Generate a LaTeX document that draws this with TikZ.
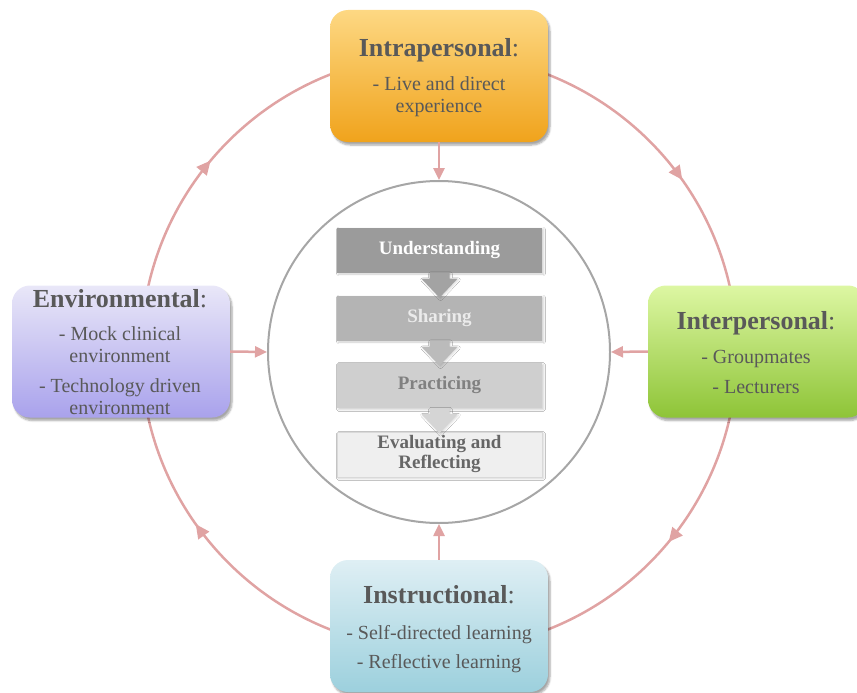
\documentclass[tikz,border=0pt]{standalone}
\usepackage{fontspec}
\setmainfont{Liberation Serif}
\usetikzlibrary{arrows.meta,calc,decorations.markings,shadows.blur}
\definecolor{txt}{HTML}{595959}
\definecolor{pinkl}{HTML}{E0A3A3}
\definecolor{ringgray}{HTML}{A6A6A6}
\definecolor{orTop}{HTML}{FDD883}
\definecolor{orBot}{HTML}{F0A31C}
\definecolor{puTop}{HTML}{E9E7F8}
\definecolor{puBot}{HTML}{A9A2EC}
\definecolor{grTop}{HTML}{DDF7A3}
\definecolor{grBot}{HTML}{8EC437}
\definecolor{blTop}{HTML}{DFEFF4}
\definecolor{blBot}{HTML}{9CD0DD}
\definecolor{stA}{HTML}{9B9B9B}
\definecolor{stB}{HTML}{B4B4B4}
\definecolor{stC}{HTML}{CFCFCF}
\definecolor{stD}{HTML}{EFEFEF}
\definecolor{arA}{HTML}{A3A3A3}
\definecolor{arB}{HTML}{BBBBBB}
\definecolor{arC}{HTML}{D5D5D5}
\begin{document}
\begin{tikzpicture}[x=1pt,y=1pt,
  catbox/.style={rounded corners=18pt, minimum width=218pt, minimum height=132pt, inner sep=0pt,
    blur shadow={shadow xshift=2pt,shadow yshift=-3pt,shadow blur steps=6,shadow opacity=35}},
  ttl/.style={anchor=base, text=txt, font=\fontsize{26}{30}\selectfont\bfseries, inner sep=0pt},
  bdy/.style={anchor=base, text=txt, font=\fontsize{20}{22}\selectfont, inner sep=0pt},
  link/.style={draw=pinkl, line width=2.5pt, -{Triangle[length=12pt,width=11pt]}},
  stepbox/.style={rectangle, minimum width=205pt, minimum height=45pt, inner sep=0pt,
    font=\fontsize{19}{20}\selectfont\bfseries, align=center,
    blur shadow={shadow xshift=1.5pt,shadow yshift=-1.5pt,shadow blur steps=4,shadow opacity=20}},
  downarrow/.style={blur shadow={shadow xshift=1pt,shadow yshift=-1pt,shadow blur steps=3,shadow opacity=15}}
]
\useasboundingbox (0,0) rectangle (857,-693);

% outer ring with cycle arrows (clockwise)
\coordinate (c) at (439,-352);
\draw[pinkl, line width=2.5pt, postaction={decorate},
  decoration={markings,
    mark=at position 0.110 with {\arrow{Triangle[length=14pt,width=13pt]}},
    mark=at position 0.402 with {\arrow{Triangle[length=14pt,width=13pt]}},
    mark=at position 0.611 with {\arrow{Triangle[length=14pt,width=13pt]}},
    mark=at position 0.902 with {\arrow{Triangle[length=14pt,width=13pt]}}}]
  (c) ++(298,0) arc[start angle=0, end angle=-360, radius=298];

% inner circle
\node[circle, draw=ringgray, line width=2pt, fill=white, minimum size=342pt, inner sep=0pt] (inner) at (c) {};

% category boxes
\node[catbox, top color=orTop, bottom color=orBot] (intra) at (439,-76) {};
\node[catbox, top color=puTop, bottom color=puBot] (env) at (121,-351.5) {};
\node[catbox, top color=grTop, bottom color=grBot] (inter) at (757,-351.5) {};
\node[catbox, top color=blTop, bottom color=blBot] (instr) at (439,-626) {};

% texts
\node[ttl] (intraT) at (439,-57) {Intrapersonal\mdseries:};
\node[bdy] (intraB1) at (439,-91) {- Live and direct};
\node[bdy] (intraB2) at (439,-113) {experience};

\node[ttl] (envT) at (120,-307) {Environmental\mdseries:};
\node[bdy] (envB1) at (120,-340) {- Mock clinical};
\node[bdy] (envB2) at (120,-362) {environment};
\node[bdy] (envB3) at (120,-392) {- Technology driven};
\node[bdy] (envB4) at (120,-414) {environment};

\node[ttl] (interT) at (756,-329) {Interpersonal\mdseries:};
\node[bdy] (interB1) at (756,-363) {- Groupmates};
\node[bdy] (interB2) at (756,-393) {- Lecturers};

\node[ttl] (instrT) at (439,-603) {Instructional\mdseries:};
\node[bdy] (instrB1) at (439,-639) {- Self-directed learning};
\node[bdy] (instrB2) at (439,-668) {- Reflective learning};

% links to the inner circle
\draw[link] (intra.south) -- (inner.north);
\draw[link] (instr.north) -- (inner.south);
\draw[link] (env.east) -- (inner.west);
\draw[link] (inter.west) -- (inner.east);

% steps
\node[stepbox, fill=stA, text=white] (s1) at (439.5,-250) {Understanding};
\node[stepbox, fill=stB, text=white!92!black] (s2) at (439.5,-318) {Sharing};
\node[stepbox, fill=stC, text=black!50] (s3) at (439.5,-385.5) {Practicing};
\node[stepbox, fill=stD, draw=black!15, line width=0.5pt, text=black!60] (s4) at (439.5,-454.5) {Evaluating and\\Reflecting};

% block arrows between steps
\foreach \a/\col in {s1/arA, s2/arB, s3/arC}{
  \fill[\col, downarrow] ($(\a.south)+(-10,0)$) -- ($(\a.south)+(-10,-6)$) -- ($(\a.south)+(-18,-6)$)
    -- ($(\a.south)+(0,-25)$) -- ($(\a.south)+(18,-6)$) -- ($(\a.south)+(10,-6)$)
    -- ($(\a.south)+(10,0)$) -- cycle;
}
\end{tikzpicture}
\end{document}
